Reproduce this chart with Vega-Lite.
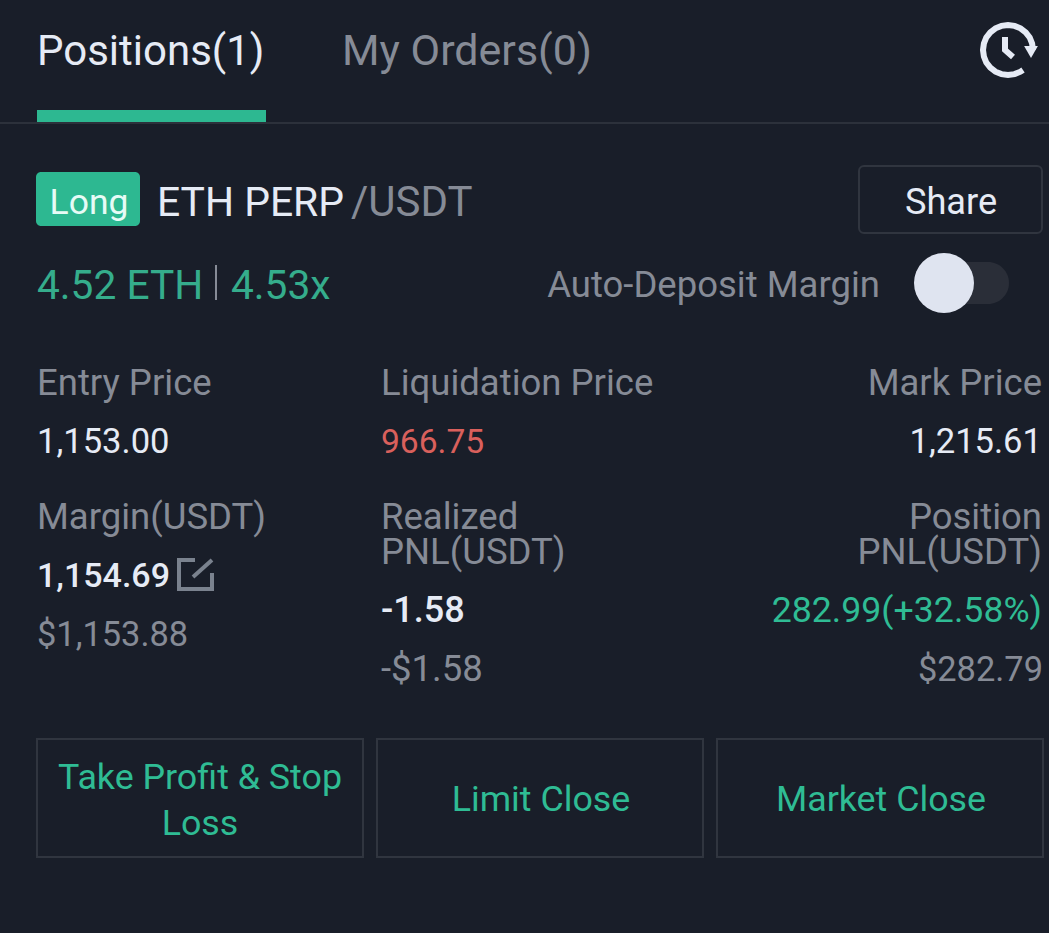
{
  "$schema": "https://vega.github.io/schema/vega-lite/v6.json",
  "autosize": {"type": "fit", "contains": "padding"},
  "width": 1049,
  "height": 933,
  "padding": 0,
  "background": "#191e29",
  "datasets": {
    "labels": [
      {"label": "Positions(1)", "px": 37, "py": 65, "align": "left", "role": "tab"},
      {"label": "My Orders(0)", "px": 342, "py": 65, "align": "left", "role": "tabmuted"},
      {"label": "Long", "px": 89, "py": 214, "align": "center", "role": "badge"},
      {"label": "ETH PERP", "px": 157, "py": 216, "align": "left", "role": "pair"},
      {"label": "/USDT", "px": 351, "py": 216, "align": "left", "role": "pairmuted"},
      {"label": "Share", "px": 951, "py": 214, "align": "center", "role": "share"},
      {"label": "4.52 ETH", "px": 37, "py": 299, "align": "left", "role": "size"},
      {"label": "4.53x", "px": 231, "py": 299, "align": "left", "role": "size"},
      {"label": "Auto-Deposit Margin", "px": 880, "py": 297, "align": "right", "role": "muted"},
      {"label": "Entry Price", "px": 37, "py": 395, "align": "left", "role": "muted"},
      {"label": "Liquidation Price", "px": 381, "py": 395, "align": "left", "role": "muted"},
      {"label": "Mark Price", "px": 1042, "py": 395, "align": "right", "role": "muted"},
      {"label": "1,153.00", "px": 37, "py": 453, "align": "left", "role": "value"},
      {"label": "966.75", "px": 381, "py": 453, "align": "left", "role": "loss"},
      {"label": "1,215.61", "px": 1042, "py": 453, "align": "right", "role": "value"},
      {"label": "Margin(USDT)", "px": 37, "py": 529, "align": "left", "role": "muted"},
      {"label": "Realized", "px": 381, "py": 529, "align": "left", "role": "muted"},
      {"label": "PNL(USDT)", "px": 381, "py": 564, "align": "left", "role": "muted"},
      {"label": "Position", "px": 1042, "py": 529, "align": "right", "role": "muted"},
      {"label": "PNL(USDT)", "px": 1042, "py": 564, "align": "right", "role": "muted"},
      {"label": "1,154.69", "px": 37, "py": 587, "align": "left", "role": "strong"},
      {"label": "-1.58", "px": 381, "py": 622, "align": "left", "role": "strongwide"},
      {"label": "282.99(+32.58%)", "px": 1042, "py": 622, "align": "right", "role": "gain"},
      {"label": "$1,153.88", "px": 37, "py": 646, "align": "left", "role": "mutednum"},
      {"label": "-$1.58", "px": 381, "py": 681, "align": "left", "role": "muted"},
      {"label": "$282.79", "px": 1043, "py": 681, "align": "right", "role": "mutednum"},
      {"label": "Take Profit & Stop", "px": 200, "py": 789, "align": "center", "role": "action"},
      {"label": "Loss", "px": 200, "py": 835, "align": "center", "role": "action"},
      {"label": "Limit Close", "px": 541, "py": 811, "align": "center", "role": "action"},
      {"label": "Market Close", "px": 881, "py": 811, "align": "center", "role": "action"}
    ],
    "boxes": [
      {"part": "Take Profit", "x0": 37, "x1": 363, "y0": 739, "y1": 857},
      {"part": "Limit Close", "x0": 377, "x1": 703, "y0": 739, "y1": 857},
      {"part": "Market Close", "x0": 717, "x1": 1043, "y0": 739, "y1": 857}
    ],
    "icons": [
      {"part": "ring", "n": 1, "px": 1033, "py": 50},
      {"part": "ring", "n": 2, "px": 1032.1, "py": 43.5},
      {"part": "ring", "n": 3, "px": 1029.7, "py": 37.5},
      {"part": "ring", "n": 4, "px": 1025.7, "py": 32.3},
      {"part": "ring", "n": 5, "px": 1020.5, "py": 28.3},
      {"part": "ring", "n": 6, "px": 1014.5, "py": 25.9},
      {"part": "ring", "n": 7, "px": 1008, "py": 25},
      {"part": "ring", "n": 8, "px": 1001.5, "py": 25.9},
      {"part": "ring", "n": 9, "px": 995.5, "py": 28.3},
      {"part": "ring", "n": 10, "px": 990.3, "py": 32.3},
      {"part": "ring", "n": 11, "px": 986.3, "py": 37.5},
      {"part": "ring", "n": 12, "px": 983.9, "py": 43.5},
      {"part": "ring", "n": 13, "px": 983, "py": 50},
      {"part": "ring", "n": 14, "px": 983.9, "py": 56.5},
      {"part": "ring", "n": 15, "px": 986.3, "py": 62.5},
      {"part": "ring", "n": 16, "px": 990.3, "py": 67.7},
      {"part": "ring", "n": 17, "px": 995.5, "py": 71.7},
      {"part": "ring", "n": 18, "px": 1001.5, "py": 74.1},
      {"part": "ring", "n": 19, "px": 1008, "py": 75},
      {"part": "ring", "n": 20, "px": 1014.5, "py": 74.1},
      {"part": "ring", "n": 21, "px": 1020.5, "py": 71.7},
      {"part": "ring", "n": 22, "px": 1023, "py": 70},
      {"part": "hand", "n": 1, "px": 1005, "py": 37},
      {"part": "hand", "n": 2, "px": 1005, "py": 50},
      {"part": "hand", "n": 3, "px": 1013, "py": 57}
    ],
    "edit": [
      {"part": "frame", "n": 1, "px": 195, "py": 560},
      {"part": "frame", "n": 2, "px": 179, "py": 560},
      {"part": "frame", "n": 3, "px": 179, "py": 589},
      {"part": "frame", "n": 4, "px": 212, "py": 589},
      {"part": "frame", "n": 5, "px": 212, "py": 573},
      {"part": "pen", "n": 1, "px": 193, "py": 577},
      {"part": "pen", "n": 2, "px": 212, "py": 560}
    ]
  },
  "encoding": {
    "x": {"field": "px", "type": "quantitative", "scale": {"domain": [0, 1049]}, "axis": null},
    "y": {"field": "py", "type": "quantitative", "scale": {"domain": [933, 0]}, "axis": null}
  },
  "layer": [
    {
      "data": {"values": [{"px": 0, "x1": 1049, "py": 122, "y1": 124}]},
      "mark": {"type": "rect", "color": "#2c313b"},
      "encoding": {"x2": {"field": "x1"}, "y2": {"field": "y1"}}
    },
    {
      "data": {"values": [{"px": 37, "x1": 266, "py": 110, "y1": 122}]},
      "mark": {"type": "rect", "color": "#2db891"},
      "encoding": {"x2": {"field": "x1"}, "y2": {"field": "y1"}}
    },
    {
      "data": {"values": [{"px": 36, "x1": 140, "py": 172, "y1": 226}]},
      "mark": {"type": "rect", "color": "#2db891", "cornerRadius": 5},
      "encoding": {"x2": {"field": "x1"}, "y2": {"field": "y1"}}
    },
    {
      "data": {"values": [{"px": 859, "x1": 1042, "py": 166, "y1": 233}]},
      "mark": {"type": "rect", "fillOpacity": 0, "stroke": "#30353f", "strokeWidth": 2, "cornerRadius": 5},
      "encoding": {"x2": {"field": "x1"}, "y2": {"field": "y1"}}
    },
    {
      "data": {"values": [{"px": 925, "x1": 1009, "py": 262, "y1": 304}]},
      "mark": {"type": "rect", "color": "#2a2e38", "cornerRadius": 21},
      "encoding": {"x2": {"field": "x1"}, "y2": {"field": "y1"}}
    },
    {
      "data": {"values": [{"px": 944, "py": 283}]},
      "mark": {"type": "point", "shape": "circle", "filled": true, "opacity": 1, "color": "#dfe4f0", "size": 3600}
    },
    {
      "data": {"values": [{"px": 216, "x1": 216, "py": 265, "y1": 300}]},
      "mark": {"type": "rule", "color": "#868b96", "strokeWidth": 2},
      "encoding": {"y2": {"field": "y1"}}
    },
    {
      "data": {"name": "boxes"},
      "transform": [{"calculate": "datum.x0", "as": "px"}, {"calculate": "datum.y0", "as": "py"}],
      "mark": {"type": "rect", "fillOpacity": 0, "stroke": "#30353f", "strokeWidth": 2},
      "encoding": {"x2": {"field": "x1"}, "y2": {"field": "y1"}}
    },
    {
      "data": {"name": "icons"},
      "mark": {"type": "line", "color": "#e6ebf5", "strokeWidth": 6, "strokeCap": "butt"},
      "encoding": {"detail": {"field": "part"}, "order": {"field": "n", "type": "quantitative"}}
    },
    {
      "data": {"values": [{"px": 1031, "py": 52}]},
      "mark": {"type": "point", "shape": "triangle-down", "filled": true, "opacity": 1, "color": "#e6ebf5", "size": 190}
    },
    {
      "data": {"name": "edit"},
      "mark": {"type": "line", "color": "#7a828e", "strokeWidth": 4, "strokeCap": "butt", "strokeJoin": "miter"},
      "encoding": {"detail": {"field": "part"}, "order": {"field": "n", "type": "quantitative"}}
    },
    {
      "data": {"name": "labels"},
      "transform": [{"filter": "datum.align === 'left' && !(datum.role === 'strong' || datum.role === 'strongwide')"}],
      "mark": {"type": "text", "align": "left", "baseline": "alphabetic", "font": "Roboto"},
      "encoding": {
        "text": {"field": "label"},
        "color": {"field": "role", "scale": {"domain": ["tab", "tabmuted", "badge", "pair", "pairmuted", "share", "size", "muted", "mutednum", "value", "strong", "strongwide", "loss", "gain", "action"], "range": ["#e6ebf5", "#868b96", "#e6fbf6", "#e6ebf5", "#868b96", "#e6ebf5", "#35ad8c", "#868b96", "#868b96", "#e6ebf5", "#e6ebf5", "#e6ebf5", "#d9605c", "#2fbc94", "#2fbc94"]}, "legend": null},
        "size": {"field": "role", "type": "ordinal", "scale": {"type": "ordinal", "domain": ["tab", "tabmuted", "badge", "pair", "pairmuted", "share", "size", "muted", "mutednum", "value", "strong", "strongwide", "loss", "gain", "action"], "range": [42, 43, 35.5, 40.8, 42, 36.2, 40.7, 36.5, 34.4, 34.6, 34, 36, 33.6, 35.7, 35.8]}, "legend": null}
      }
    },
    {
      "data": {"name": "labels"},
      "transform": [{"filter": "datum.role === 'strong' || datum.role === 'strongwide'"}],
      "mark": {"type": "text", "align": "left", "baseline": "alphabetic", "font": "Roboto", "fontWeight": 500},
      "encoding": {
        "text": {"field": "label"},
        "color": {"field": "role", "scale": {"domain": ["tab", "tabmuted", "badge", "pair", "pairmuted", "share", "size", "muted", "mutednum", "value", "strong", "strongwide", "loss", "gain", "action"], "range": ["#e6ebf5", "#868b96", "#e6fbf6", "#e6ebf5", "#868b96", "#e6ebf5", "#35ad8c", "#868b96", "#868b96", "#e6ebf5", "#e6ebf5", "#e6ebf5", "#d9605c", "#2fbc94", "#2fbc94"]}, "legend": null},
        "size": {"field": "role", "type": "ordinal", "scale": {"type": "ordinal", "domain": ["tab", "tabmuted", "badge", "pair", "pairmuted", "share", "size", "muted", "mutednum", "value", "strong", "strongwide", "loss", "gain", "action"], "range": [42, 43, 35.5, 40.8, 42, 36.2, 40.7, 36.5, 34.4, 34.6, 34, 36, 33.6, 35.7, 35.8]}, "legend": null}
      }
    },
    {
      "data": {"name": "labels"},
      "transform": [{"filter": "datum.align === 'right'"}],
      "mark": {"type": "text", "align": "right", "baseline": "alphabetic", "font": "Roboto"},
      "encoding": {
        "text": {"field": "label"},
        "color": {"field": "role", "scale": {"domain": ["tab", "tabmuted", "badge", "pair", "pairmuted", "share", "size", "muted", "mutednum", "value", "strong", "strongwide", "loss", "gain", "action"], "range": ["#e6ebf5", "#868b96", "#e6fbf6", "#e6ebf5", "#868b96", "#e6ebf5", "#35ad8c", "#868b96", "#868b96", "#e6ebf5", "#e6ebf5", "#e6ebf5", "#d9605c", "#2fbc94", "#2fbc94"]}, "legend": null},
        "size": {"field": "role", "type": "ordinal", "scale": {"type": "ordinal", "domain": ["tab", "tabmuted", "badge", "pair", "pairmuted", "share", "size", "muted", "mutednum", "value", "strong", "strongwide", "loss", "gain", "action"], "range": [42, 43, 35.5, 40.8, 42, 36.2, 40.7, 36.5, 34.4, 34.6, 34, 36, 33.6, 35.7, 35.8]}, "legend": null}
      }
    },
    {
      "data": {"name": "labels"},
      "transform": [{"filter": "datum.align === 'center'"}],
      "mark": {"type": "text", "align": "center", "baseline": "alphabetic", "font": "Roboto"},
      "encoding": {
        "text": {"field": "label"},
        "color": {"field": "role", "scale": {"domain": ["tab", "tabmuted", "badge", "pair", "pairmuted", "share", "size", "muted", "mutednum", "value", "strong", "strongwide", "loss", "gain", "action"], "range": ["#e6ebf5", "#868b96", "#e6fbf6", "#e6ebf5", "#868b96", "#e6ebf5", "#35ad8c", "#868b96", "#868b96", "#e6ebf5", "#e6ebf5", "#e6ebf5", "#d9605c", "#2fbc94", "#2fbc94"]}, "legend": null},
        "size": {"field": "role", "type": "ordinal", "scale": {"type": "ordinal", "domain": ["tab", "tabmuted", "badge", "pair", "pairmuted", "share", "size", "muted", "mutednum", "value", "strong", "strongwide", "loss", "gain", "action"], "range": [42, 43, 35.5, 40.8, 42, 36.2, 40.7, 36.5, 34.4, 34.6, 34, 36, 33.6, 35.7, 35.8]}, "legend": null}
      }
    }
  ],
  "config": {"view": {"stroke": null}}
}
